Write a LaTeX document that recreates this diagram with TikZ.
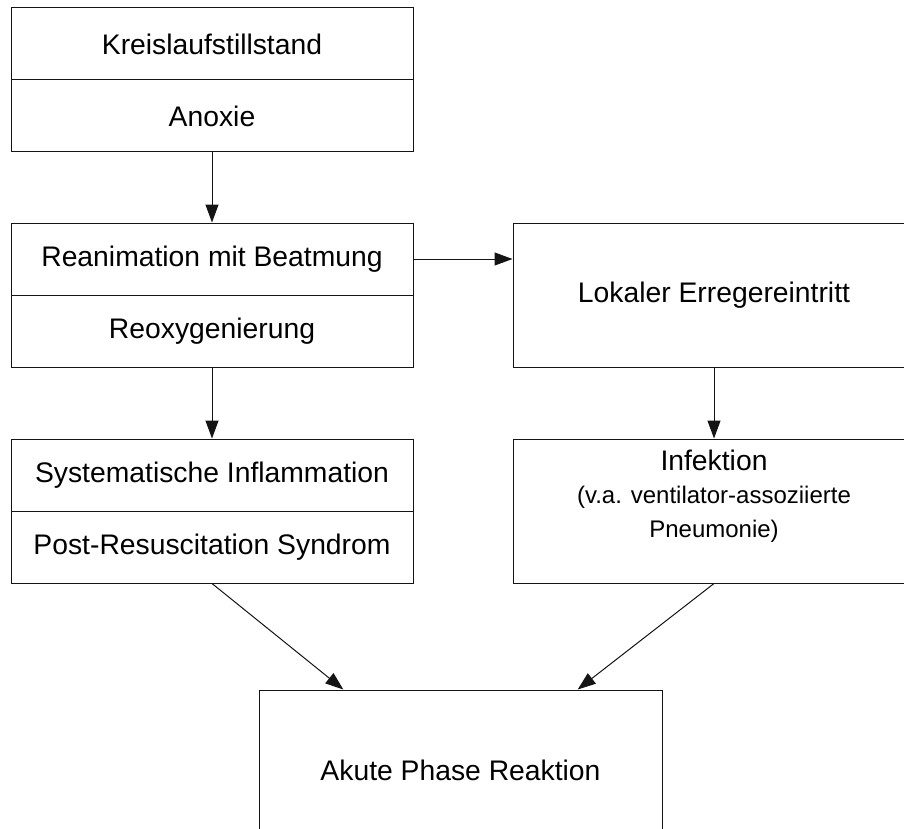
\documentclass[tikz,border=0pt]{standalone}
\usepackage{fontspec}
\setmainfont{Liberation Sans}
\usepackage{tikz}
\usetikzlibrary{arrows.meta, positioning, calc}
\definecolor{dark}{RGB}{20, 20, 20}
\newcommand{\bigtxt}{\fontsize{28.3}{34}\selectfont}
\newcommand{\smalltxt}{\fontsize{24}{33}\selectfont}
\tikzset{
    box/.style={rectangle, draw=dark, line width=1pt, align=center, font=\bigtxt, inner sep=0pt, minimum width=402pt},
    halfbox/.style={box, minimum height=72pt},
    fullbox/.style={box, minimum height=144pt},
    arr/.style={-{Triangle[length=18pt, width=13pt]}, line width=1pt, dark}
}
\begin{document}
\begin{tikzpicture}[x=1pt, y=-1pt]
        \useasboundingbox (0,0) rectangle (904,829);
        \node[halfbox] (kreis) at (212,44) {Kreislaufstillstand};
        \node[halfbox] (anoxie) at (212,116) {Anoxie};

        \node[halfbox] (rean) at (212,259) {Reanimation mit Beatmung};
        \node[halfbox] (reoxy) at (212,331) {Reoxygenierung};
        \node[fullbox] (lokal) at (714,295) {Lokaler Erregereintritt};

        \node[halfbox] (sys) at (212,475) {Systematische Inflammation};
        \node[halfbox] (post) at (212,547) {Post-Resuscitation Syndrom};
        \node[fullbox] (infekt) at (714,511) {Infektion\\[-1pt]\smalltxt(v.a. ventilator-assoziierte\\\smalltxt Pneumonie)\\[0pt]};

        \node[box, minimum width=403pt, minimum height=160pt] (akut) at (460.5,770) {Akute Phase Reaktion};

        \draw[arr] (anoxie) -- (rean);
        \draw[arr] (rean.east) -- (rean.east -| lokal.west);
        \draw[arr] (reoxy) -- (sys);
        \draw[arr] (lokal) -- (infekt);
        \draw[arr] (post.south) -- ($(akut.north west)!0.21!(akut.north east)$);
        \draw[arr] (infekt.south) -- ($(akut.north west)!0.79!(akut.north east)$);
    \end{tikzpicture}
\end{document}
